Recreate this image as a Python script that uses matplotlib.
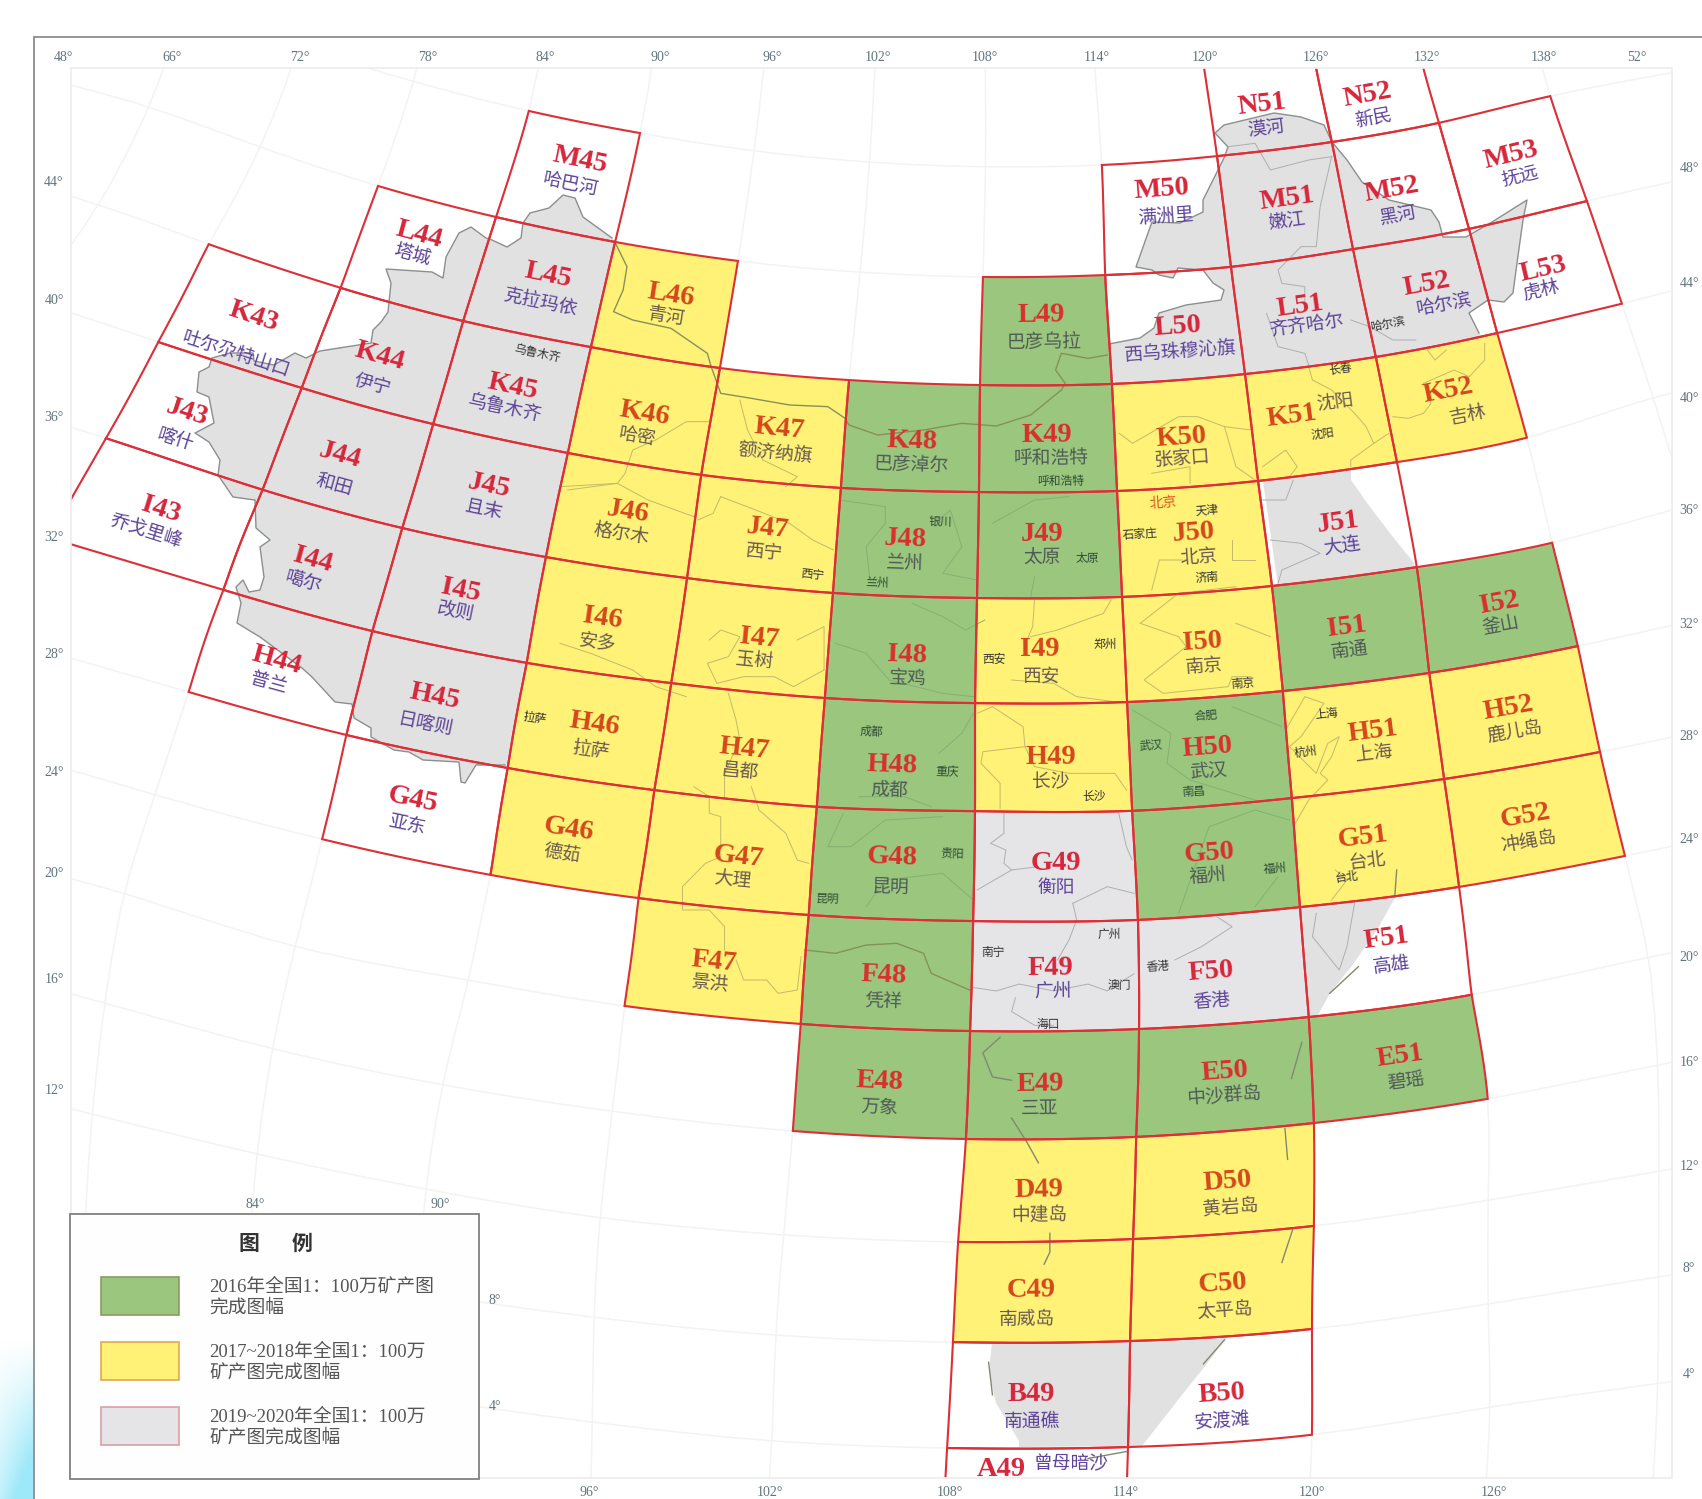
import numpy as np
import matplotlib
matplotlib.use("Agg")
import matplotlib.pyplot as plt
from matplotlib.patches import Polygon, Rectangle

# ---------- sheets ----------
GREEN = ["L49","K48","K49","J48","J49","I48","H48","G48","F48","E48","E49","E50","E51","I51","I52","H50","G50"]
YELLOW = ["L46","K46","K47","K50","K51","K52","J46","J47","J50","I46","I47","I49","I50","H46","H47","H49","H51","H52",
          "G46","G47","G51","G52","F47","D49","D50","C49","C50"]
GRAY = ["G49","F49","F50"]
OPEN = ["N51","N52","M45","M50","M51","M52","M53","L44","L45","L50","L51","L52","L53","K43","K44","K45","J43","J44","J45",
        "J51","I43","I44","I45","H44","H45","G45","F51","B49","B50","A49"]

SHEET_NAMES = {
 "M45":"哈巴河","L44":"塔城","L45":"克拉玛依","K43":"吐尔尕特山口","K44":"伊宁","K45":"乌鲁木齐","J43":"喀什","J44":"和田","J45":"且末",
 "I43":"乔戈里峰","I44":"噶尔","I45":"改则","H44":"普兰","H45":"日喀则","G45":"亚东","L46":"青河","K46":"哈密","K47":"额济纳旗",
 "K48":"巴彦淖尔","K49":"呼和浩特","L49":"巴彦乌拉","L50":"西乌珠穆沁旗","K50":"张家口","K51":"沈阳","K52":"吉林","L51":"齐齐哈尔",
 "L52":"哈尔滨","L53":"虎林","M50":"满洲里","M51":"嫩江","M52":"黑河","M53":"抚远","N51":"漠河","N52":"新民","J46":"格尔木","J47":"西宁",
 "J48":"兰州","J49":"太原","J50":"北京","J51":"大连","I46":"安多","I47":"玉树","I48":"宝鸡","I49":"西安","I50":"南京","I51":"南通","I52":"釜山",
 "H46":"拉萨","H47":"昌都","H48":"成都","H49":"长沙","H50":"武汉","H51":"上海","H52":"鹿儿岛","G46":"德茹","G47":"大理","G48":"昆明",
 "G49":"衡阳","G50":"福州","G51":"台北","G52":"冲绳岛","F47":"景洪","F48":"凭祥","F49":"广州","F50":"香港","F51":"高雄","E48":"万象",
 "E49":"三亚","E50":"中沙群岛","E51":"碧瑶","D49":"中建岛","D50":"黄岩岛","C49":"南威岛","C50":"太平岛","B49":"南通礁","B50":"安渡滩","A49":"曾母暗沙"}

CITY_NAMES = ["乌鲁木齐","呼和浩特","长春","沈阳","哈尔滨","西宁","银川","兰州","太原","北京","天津","石家庄","济南","西安","郑州","南京",
              "拉萨","成都","重庆","长沙","合肥","武汉","南昌","上海","杭州","贵阳","昆明","福州","台北","南宁","广州","澳门","海口","香港"]
CITY_SHEETS = ["K45","K49","K51","K51","L52","J47","J48","J48","J49","J50","J50","J50","J50","I49","I49","I50",
               "H46","H48","H48","H49","H50","H50","H50","H51","H51","G48","G48","G50","G51","F49","F49","F49","F49","F50"]

TOP_LABELS = ["48°","66°","72°","78°","84°","90°","96°","102°","108°","114°","120°","126°","132°","138°","52°"]
LEFT_LABELS = ["44°","40°","36°","32°","28°","24°","20°","16°","12°"]
RIGHT_LABELS = ["48°","44°","40°","36°","32°","28°","24°","20°","16°","12°","8°","4°"]
BOTTOM_LABELS = ["96°","102°","108°","114°","120°","126°"]
INNER_LABELS = ["84°","90°","8°","4°"]

LEGEND_TITLE = ["图","例"]
LEGEND_TEXT = [["2016年全国1：100万矿产图","完成图幅"],["2017~2018年全国1：100万","矿产图完成图幅"],["2019~2020年全国1：100万","矿产图完成图幅"]]

# ---------- map registration: (lon, lat, x_px, y_px) read from the graticule ----------
CONTROL = np.array([
(72,44,208,244),(72,40,158,342),(72,36,106,438),(72,32,50,538),(72,48,260,147),(66,48,149,107),(66,44,99,205),
(84,52,529,111),(78,48,378,186),(78,44,341,288),(78,40,302,388),(78,36,263,490),(78,32,224,590),(78,28,189,692),(78,24,155,795),(78,20,124,893),
(84,48,496,217),(84,44,463,321),(84,40,433,424),(84,36,402,528),(84,32,372,631),(84,28,346,735),(84,24,322,839),(84,20,295,947),
(90,52,640,133),(90,48,615,242),(90,44,591,347),(90,40,568,453),(90,36,546,557),(90,32,527,663),(90,28,508,768),(90,24,491,875),(90,20,469,980),
(96,48,738,261),(96,44,720,368),(96,40,701,475),(96,36,687,578),(96,32,671,683),(96,28,654,790),(96,24,638,898),(96,20,624,1006),(96,16,612,1111),(96,12,600,1218),(96,8,594,1317),
(102,44,849,380),(102,40,841,488),(102,36,833,593),(102,32,825,698),(102,28,817,807),(102,24,809,915),(102,20,801,1024),(102,16,793,1131),(102,12,784,1235),(102,8,776,1335),(102,4,772,1441),
(108,48,983,277),(108,44,980,385),(108,40,979,492),(108,36,977,598),(108,32,975,703),(108,28,975,811),(108,24,973,921),(108,20,970,1031),(108,16,966,1139),(108,12,958,1242),(108,8,953,1342),(108,4,947,1448),(108,0,941,1553),
(114,52,1102,165),(114,48,1105,275),(114,44,1112,384),(114,40,1117,491),(114,36,1122,597),(114,32,1127,702),(114,28,1132,811),(114,24,1138,920),(114,20,1139,1029),(114,16,1136,1137),(114,12,1133,1239),(114,8,1130,1341),(114,4,1128,1447),(114,0,1124,1553),
(120,56,1201,47),(120,52,1217,156),(120,48,1231,267),(120,44,1245,374),(120,40,1258,481),(120,36,1272,586),(120,32,1283,691),(120,28,1292,798),(120,24,1300,907),(120,20,1309,1017),(120,16,1314,1123),(120,12,1314,1226),(120,8,1312,1329),(120,4,1312,1435),
(126,56,1310,34),(126,52,1332,142),(126,48,1353,249),(126,44,1376,357),(126,40,1397,462),(126,36,1417,567),(126,32,1429,673),(126,28,1444,779),(126,24,1459,887),(126,20,1471,995),(126,16,1488,1099),(126,12,1488,1200),(126,8,1488,1304),(126,4,1490,1407),
(132,56,1410,15),(132,52,1439,123),(132,48,1469,229),(132,44,1497,333),(132,40,1527,438),(132,36,1552,543),(132,32,1578,646),(132,28,1600,752),(132,24,1625,856),(132,20,1649,957),
(138,52,1550,96),(138,48,1587,201),(138,44,1622,304),(138,40,1653,397),
], dtype=float)

# thin-plate spline through the control points
_P = np.c_[CONTROL[:, 0] / 6, CONTROL[:, 1] / 4]

def _kernel(r2):
    with np.errstate(divide="ignore", invalid="ignore"):
        return np.where(r2 > 0, 0.5 * r2 * np.log(r2), 0.0)

_n = len(_P)
_d2 = ((_P[:, None, :] - _P[None, :, :]) ** 2).sum(-1)
_Q = np.c_[np.ones(_n), _P]
_M = np.block([[_kernel(_d2) + 0.08 * np.eye(_n), _Q], [_Q.T, np.zeros((3, 3))]])
_RHS = np.r_[CONTROL[:, 2:4], np.zeros((3, 2))]
_W = np.linalg.solve(_M, _RHS)

def project(lon, lat):
    q = np.c_[np.ravel(lon) / 6.0, np.ravel(lat) / 4.0]
    d2 = ((q[:, None, :] - _P[None, :, :]) ** 2).sum(-1)
    out = _kernel(d2) @ _W[:_n] + np.c_[np.ones(len(q)), q] @ _W[_n:]
    return out[:, 0], out[:, 1]

def sheet_bounds(code):
    row = ord(code[0]) - ord("A")
    col = int(code[1:])
    lat0 = row * 4
    lon0 = (col - 31) * 6
    return lon0, lon0 + 6, lat0, lat0 + 4

def sheet_outline(code, n=10):
    w, e, s, t = sheet_bounds(code)
    lon = np.r_[np.linspace(w, e, n), np.full(n, e), np.linspace(e, w, n), np.full(n, w)]
    lat = np.r_[np.full(n, t), np.linspace(t, s, n), np.full(n, s), np.linspace(s, t, n)]
    x, y = project(lon, lat)
    return np.c_[x, y]

def sheet_angle(code):
    w, e, s, t = sheet_bounds(code)
    m = (s + t) / 2
    x, y = project([w, e], [m, m])
    return np.degrees(np.arctan2(-(y[1] - y[0]), x[1] - x[0]))

# ---------- label positions (px in a 1568-wide read-out, scaled below) ----------
CODE_POS = {
 "M45":(534,148),"L44":(386,216),"L45":(505,254),"K43":(234,292),"K44":(350,328),"K45":(472,356),"J43":(172,380),"J44":(313,420),"J45":(450,448),
 "I43":(148,470),"I44":(288,516),"I45":(424,544),"H44":(255,608),"H45":(400,642),"G45":(380,737),"L46":(618,272),"K46":(594,381),"K47":(718,395),
 "K48":(840,407),"K49":(964,401),"L49":(959,290),"L50":(1085,301),"K50":(1088,403),"K51":(1190,383),"K52":(1334,360),"L51":(1198,282),"L52":(1314,262),
 "L53":(1422,248),"M50":(1070,175),"M51":(1186,183),"M52":(1282,175),"M53":(1392,143),"N51":(1163,96),"N52":(1260,88),"J46":(578,472),"J47":(707,487),
 "J48":(834,497),"J49":(960,492),"J50":(1100,491),"J51":(1233,482),"I46":(555,570),"I47":(700,588),"I48":(836,604),"I49":(958,598),"I50":(1108,592),
 "I51":(1241,578),"I52":(1381,556),"H46":(548,667),"H47":(686,690),"H48":(822,705),"H49":(968,698),"H50":(1112,689),"H51":(1265,674),"H52":(1390,652),
 "G46":(524,764),"G47":(680,790),"G48":(822,790),"G49":(973,795),"G50":(1114,786),"G51":(1256,771),"G52":(1405,752),"F47":(658,886),"F48":(814,899),
 "F49":(968,892),"F50":(1116,895),"F51":(1277,865),"E48":(810,996),"E49":(958,999),"E50":(1128,987),"E51":(1290,973),"D49":(957,1096),"D50":(1131,1089),
 "C49":(950,1189),"C50":(1126,1183),"B49":(950,1285),"B50":(1126,1284),"A49":(922,1354)}
NAME_POS = {
 "M45":(526,170),"L44":(380,235),"L45":(498,278),"K43":(218,326),"K44":(343,354),"K45":(465,376),"J43":(162,405),"J44":(308,447),"J45":(446,469),
 "I43":(135,489),"I44":(280,536),"I45":(420,564),"H44":(248,629),"H45":(392,667),"G45":(375,760),"L46":(614,292),"K46":(587,402),"K47":(714,417),
 "K48":(840,428),"K49":(968,422),"L49":(962,315),"L50":(1088,324),"K50":(1089,423),"K51":(1230,370),"K52":(1352,382),"L51":(1204,300),"L52":(1330,280),
 "L53":(1420,267),"M50":(1074,199),"M51":(1186,204),"M52":(1288,198),"M53":(1400,162),"N51":(1166,118),"N52":(1265,109),"J46":(572,492),"J47":(704,509),
 "J48":(834,519),"J49":(960,514),"J50":(1104,513),"J51":(1236,503),"I46":(550,592),"I47":(695,608),"I48":(836,625),"I49":(960,623),"I50":(1109,614),
 "I51":(1243,599),"I52":(1383,576),"H46":(544,691),"H47":(682,711),"H48":(819,728),"H49":(968,720),"H50":(1113,711),"H51":(1266,694),"H52":(1396,675),
 "G46":(518,787),"G47":(675,811),"G48":(821,817),"G49":(973,817),"G50":(1113,808),"G51":(1259,793),"G52":(1408,775),"F47":(654,907),"F48":(814,923),
 "F49":(970,914),"F50":(1116,922),"F51":(1282,889),"E48":(810,1020),"E49":(958,1021),"E50":(1128,1010),"E51":(1295,996),"D49":(957,1119),"D50":(1134,1113),
 "C49":(946,1215),"C50":(1128,1208),"B49":(951,1309),"B50":(1126,1309),"A49":(987,1348)}
CITY_POS = [(495,326),(977,443),(1235,340),(1218,400),(1278,299),(748,529),(866,481),(808,537),(1002,514),(1071,463),(1112,470),(1050,492),(1112,532),
            (916,607),(1018,594),(1145,630),(493,662),(803,674),(873,711),(1008,734),(1111,660),(1060,687),(1100,729),(1222,658),(1203,693),(877,787),
            (762,828),(1175,800),(1241,808),(915,877),(1022,861),(1031,908),(966,944),(1067,891)]
S = 1702 / 1568

TOP_X = [63,172,300,428,545,660,772,878,985,1097,1205,1316,1427,1544,1637]
LEFT_Y = [182,300,417,537,654,772,873,979,1090]
RIGHT_Y = [168,283,398,510,624,736,839,957,1062,1166,1268,1375]
BOTTOM_X = [589,770,950,1126,1312,1494]
INNER_XY = [(255,1204),(440,1204),(495,1300),(495,1407)]

# ---------- land outlines, px ----------
WEST_BORDER = [(612,238),(583,217),(575,198),(563,195),(549,208),(530,213),(523,223),(521,238),(507,247),(492,240),(486,238),(471,227),(459,233),(446,257),(443,278),
 (432,272),(386,269),(391,283),(388,312),(381,322),(373,330),(371,343),(320,351),(306,358),(295,353),(274,365),(254,361),(253,353),(230,353),(212,358),(209,367),(199,372),
 (197,392),(209,397),(214,423),(195,433),(209,442),(220,460),(218,475),(233,497),(255,500),(256,528),(270,540),(260,547),(264,577),(260,590),(249,592),(243,580),(236,587),
 (241,603),(237,623),(260,637),(302,668),(312,677),(335,702),(352,704),(354,718),(371,728),(371,737),(394,750),(409,752),(423,760),(459,762),(461,782),(465,783),(476,765),(505,765)]
WEST_CLOSE = [(530,775),(625,252)]
NE_BORDER = [(1105,345),(1114,343),(1140,338),(1154,328),(1159,313),(1186,305),(1221,300),(1224,290),(1213,283),(1203,270),(1178,268),(1173,278),(1159,275),(1152,270),(1136,267),
 (1148,233),(1152,222),(1180,223),(1203,212),(1203,200),(1224,158),(1228,147),(1215,133),(1224,125),(1274,113),(1301,117),(1324,125),(1332,142),(1347,160),(1362,182),(1389,200),
 (1431,210),(1439,222),(1443,237),(1466,237),(1492,222),(1527,200),(1523,220),(1517,263),(1513,293),(1504,302),(1488,300),(1469,313),(1479,333)]
NE_CLOSE = [(1490,350),(1360,440),(1351,467),(1351,480),(1370,507),(1393,537),(1414,563),(1414,578),(1280,600),(1265,495),(1250,400),(1120,400)]
TAIWAN_SEA = [(1300,907),(1397,894),(1377,930),(1351,967),(1330,993),(1317,1017),(1309,1017)]
SOUTH_SEA = [(992,1342),(1228,1336),(1205,1366),(1178,1400),(1142,1446),(1019,1447),(1019,1441),(996,1403),(989,1372)]

THIN_COL = [
 (560,0,3,[(250,1320),(330,1265),(390,1265)]),
 (560,0,3,[(250,1320),(190,1350),(170,1420),(150,1450),(20,1470)]),
 (560,0,3,[(470,1200),(490,1290),(530,1380),(620,1430),(590,1460)]),
 (560,480,3,[(0,20),(150,10),(230,60),(350,110)]),
 (560,480,3,[(420,50),(400,100),(360,120)]),
 (560,480,3,[(420,50),(500,85),(600,130),(660,180),(715,210)]),
 (560,480,3,[(390,480),(420,450),(470,470),(440,530),(385,550),(410,610),(480,590),(560,590),(610,620),(690,570)]),
 (560,480,3,[(620,480),(690,440),(690,570)]),
 (560,480,3,[(0,490),(80,520),(190,570),(250,620),(330,650)]),
 (560,480,3,[(440,640),(460,720),(470,780),(430,880),(430,950)]),
 (560,480,3,[(350,920),(390,950),(390,1000),(420,1010),(420,1130),(380,1150),(320,1220),(320,1290),(390,1290),(430,1340),(430,1410)]),
 (560,480,3,[(500,920),(520,990),(590,1060),(620,1140),(650,1150)]),
 (560,480,3,[(460,1440),(480,1500),(540,1500),(570,1540),(620,1530),(630,1430)]),
 (560,480,3,[(1090,700),(1130,680),(1210,740),(1215,800),(1105,815),(1100,850),(1150,910),(1150,985)]),
 (560,480,3,[(1215,800),(1240,860),(1330,880),(1400,880),(1450,880),(1480,930)]),
 (560,480,3,[(1240,360),(1235,440),(1220,480)]),
 (560,480,3,[(1440,360),(1420,400),(1300,450),(1230,470)]),
 (560,480,3,[(1180,600),(1290,610),(1350,650),(1480,670)]),
 (1102,0,3,[(540,1100),(550,1140),(600,1170),(660,1240),(690,1280),(710,1330),(750,1300)]),
 (1102,0,3,[(710,1330),(650,1380),(650,1400)]),
 (1102,0,3,[(760,1250),(800,1255),(840,1240),(860,1210),(840,1150),(920,1110),(960,1130),(1000,1080),(1000,1030)]),
 (1102,0,3,[(850,1050),(870,1080),(900,1050)]),
 (1102,0,3,[(45,1300),(80,1330),(140,1290),(200,1250),(250,1250),(320,1280),(390,1290)]),
 (1102,0,3,[(130,1420),(230,1400),(230,1450)]),
 (1102,0,3,[(320,1280),(350,1400),(400,1440)]),
 (1102,0,3,[(420,1400),(480,1350),(510,1400),(490,1430)]),
 (1102,480,3,[(130,330),(150,240),(210,240)]),
 (1102,480,3,[(340,180),(340,240),(400,240)]),
 (1102,480,3,[(100,430),(200,340),(350,320)]),
 (1102,480,3,[(100,430),(200,470),(220,500),(110,600),(160,640),(330,620),(340,590),(390,590)]),
 (1102,480,3,[(350,430),(440,470)]),
 (1102,480,3,[(480,750),(530,650),(580,670),(520,770),(490,800),(560,880),(590,790),(620,770),(600,830),(570,880),(590,900),(540,960),(500,1040)]),
 (1102,480,3,[(600,1260),(640,1200),(610,1170)]),
]
THIN_GREEN = [
 (560,480,3,[(730,60),(850,80),(850,130),(800,200),(810,300)]),
 (560,480,3,[(990,120),(1020,90),(1050,200),(1000,280),(1090,300)]),
 (560,480,3,[(1130,130),(1240,60),(1330,50)]),
 (560,480,3,[(1240,290),(1230,350)]),
 (560,480,3,[(920,370),(1000,410),(1060,450),(1110,420)]),
 (560,480,3,[(720,490),(800,520),(860,600),(1000,640),(1080,650)]),
 (560,480,3,[(780,950),(900,950),(970,980)]),
 (560,480,3,[(990,820),(1050,760),(1080,700)]),
 (560,480,3,[(740,1000),(700,1100),(760,1100),(850,1020),(1000,1010)]),
 (560,480,3,[(800,1280),(850,1200),(1000,1180),(1080,1260)]),
 (1102,480,3,[(80,690),(180,760),(170,850),(230,900),(400,960)]),
 (1102,480,3,[(340,680),(470,740)]),
 (1102,480,3,[(200,1300),(280,1040),(400,990),(490,1020)]),
 (1102,480,3,[(400,1280),(460,1190)]),
]
BORDER_DARK = [
 (560,0,3,[(145,730),(175,800),(165,870),(140,935),(190,960),(290,985),(385,1060),(395,1100),(420,1180),(500,1195),(600,1215),(700,1220),(745,1255),(755,1275),(830,1305),
           (950,1290),(1050,1270),(1140,1278),(1230,1245),(1310,1170),(1320,1150),(1295,1110),(1310,1060),(1380,1075),(1430,1065)]),
 (560,480,3,[(640,1410),(720,1420),(800,1395),(880,1390),(950,1420),(970,1480),(1070,1530)]),
]
THIN_GRAY = [
 (560,480,3,[(1160,1000),(1160,1060),(1125,1090),(1165,1110),(1160,1150),(1180,1170),(1090,1230)]),
 (560,480,3,[(1180,1170),(1250,1160)]),
 (560,480,3,[(1340,1270),(1430,1220),(1500,1240)]),
 (560,480,3,[(1340,1270),(1350,1320),(1330,1380),(1300,1440)]),
 (560,480,3,[(1460,1000),(1480,1100),(1495,1140)]),
 (560,960,2.909,[(1080,80),(1140,90),(1200,70),(1290,90),(1380,70),(1430,90),(1500,40)]),
 (560,960,2.909,[(1190,110),(1180,150),(1240,190),(1290,190)]),
 (1102,0,3,[(330,440),(400,430),(440,510),(540,480),(600,470)]),
 (1102,0,3,[(600,470),(570,620),(560,740),(520,740),(460,810),(470,850),(530,860),(530,920)]),
 (1102,0,3,[(430,940),(460,1040),(530,1060),(540,1095)]),
 (1102,0,3,[(650,960),(700,980),(760,1020),(820,1020)]),
 (1102,0,3,[(420,1500),(480,1500),(500,1440)]),
 (1102,480,3,[(440,180),(520,190),(570,220),(470,270),(460,310)]),
 (1102,480,3,[(660,1270),(640,1400),(620,1470),(550,1370),(560,1300)]),
 (1102,480,3,[(300,1310),(340,1340),(260,1400),(190,1440)]),
]
DASHES = [
 (560,960,2.909,[(1150,225),(1105,270),(1130,340),(1180,350)]),
 (560,960,2.909,[(1180,460),(1220,530),(1250,590)]),
 (560,960,2.909,[(1280,795),(1280,850),(1265,885)]),
 (560,960,2.909,[(1120,1170),(1130,1265)]),
 (560,960,2.909,[(1380,1450),(1480,1430)]),
 (1102,960,2.909,[(478,490),(485,580)]),
 (1102,960,2.909,[(498,785),(470,880)]),
 (1102,960,2.909,[(522,240),(495,345)]),
 (1102,960,2.909,[(320,1105),(265,1175)]),
 (1102,480,3,[(770,1170),(765,1250)]),
 (1102,480,3,[(670,1460),(595,1540)]),
]

GRAT_LONS = [66,72,78,84,90,96,102,108,114,120,126,132,138]
GRAT_LATS = [4,8,12,16,20,24,28,32,36,40,44,48,52]

def uncrop(group):
    ox, oy, sy, pts = group
    p = np.array(pts, float)
    return ox + p[:, 0] / 2.613, oy + p[:, 1] / sy

# ---------- figure ----------
plt.rcParams["font.family"] = ["Noto Sans CJK SC", "DejaVu Sans"]
SERIF = ["Liberation Serif", "Noto Sans CJK SC", "DejaVu Sans"]
fig = plt.figure(figsize=(17.02, 14.99), dpi=100, facecolor="white")
ax = fig.add_axes([0, 0, 1, 1])

# corner glow
ny, nx = 160, 34
gy, gx = np.mgrid[0:ny, 0:nx]
rgba = np.zeros((ny, nx, 4))
rgba[..., :3] = (0.55, 0.90, 0.98)
rgba[..., 3] = np.clip((gy / ny) ** 1.2 * (0.55 + 0.45 * gx / nx) + 0.25 * (gx / nx) * (gy / ny), 0, 0.85)
ax.imshow(rgba, extent=(0, 33, 1499, 1339), aspect="auto", zorder=0)

ax.set_xlim(0, 1702)
ax.set_ylim(1499, 0)
ax.axis("off")

FX0, FY0, FX1, FY1 = 71, 68, 1672, 1478
clip = Rectangle((FX0, FY0), FX1 - FX0, FY1 - FY0, transform=ax.transData)

# graticule
for lon in GRAT_LONS:
    lat = np.linspace(0, 58, 40)
    x, y = project(np.full_like(lat, lon), lat)
    l, = ax.plot(x, y, color="#f3f3f3", lw=1.1, zorder=1)
    l.set_clip_path(clip)
for lat in GRAT_LATS:
    lon = np.linspace(56, 150, 60)
    x, y = project(lon, np.full_like(lon, lat))
    l, = ax.plot(x, y, color="#f3f3f3", lw=1.1, zorder=1)
    l.set_clip_path(clip)

# land
LAND = "#e1e1e1"
for poly in (WEST_BORDER + WEST_CLOSE, NE_BORDER + NE_CLOSE, TAIWAN_SEA, SOUTH_SEA):
    ax.add_patch(Polygon(poly, closed=True, fc=LAND, ec="none", zorder=2))
for line in (WEST_BORDER, NE_BORDER):
    p = np.array(line)
    ax.plot(p[:, 0], p[:, 1], color="#8b8f8f", lw=1.0, zorder=3)

# filled sheets
for codes, col in ((GREEN, "#9ac67e"), (YELLOW, "#fff277"), (GRAY, "#e5e5e7")):
    for c in codes:
        pg = Polygon(sheet_outline(c), closed=True, fc=col, ec="none", zorder=4)
        ax.add_patch(pg)
        pg.set_clip_path(clip)

# thin boundaries
for g in THIN_COL:
    ax.plot(*uncrop(g), color="#c2ba6a", lw=0.7, zorder=5)
for g in THIN_GREEN:
    ax.plot(*uncrop(g), color="#86b072", lw=0.7, zorder=5)
for g in THIN_GRAY:
    ax.plot(*uncrop(g), color="#acafaf", lw=0.7, zorder=5)
for g in BORDER_DARK:
    ax.plot(*uncrop(g), color="#84925a", lw=1.0, zorder=5)
for g in DASHES:
    ax.plot(*uncrop(g), color="#7f8a70", lw=1.0, zorder=5)

# sheet borders
for c in GREEN + YELLOW + GRAY + OPEN:
    pg = Polygon(sheet_outline(c), closed=True, fc="none", ec="#dd2f36", lw=1.5, zorder=6, joinstyle="miter")
    ax.add_patch(pg)
    pg.set_clip_path(clip)

# frames
ax.add_patch(Rectangle((FX0, FY0), FX1 - FX0, FY1 - FY0, fc="none", ec="#ececec", lw=1.2, zorder=7))
ax.plot([34, 34, 1702], [1499, 37, 37], color="#8c8c8c", lw=1.3, zorder=7, solid_joinstyle="miter")

# sheet labels
for c, name in SHEET_NAMES.items():
    rot = sheet_angle(c)
    if c in GREEN:
        ccol, ncol = "#d9302c", "#4f5a55"
    elif c in YELLOW:
        ccol, ncol = "#d4471c", "#6a5a50"
    else:
        ccol, ncol = "#d6263a", "#5d4398"
    cx, cy = CODE_POS[c]
    nx_, ny_ = NAME_POS[c]
    ax.text(cx * S, cy * S, c, family=SERIF, weight="bold", fontsize=20.5, color=ccol, rotation=rot,
            rotation_mode="anchor", ha="center", va="center", zorder=9)
    ax.text(nx_ * S, ny_ * S, name, fontsize=13.5, color=ncol, rotation=rot,
            rotation_mode="anchor", ha="center", va="center", zorder=9)
for name, sh, (cx, cy) in zip(CITY_NAMES, CITY_SHEETS, CITY_POS):
    col = "#d9561c" if name == "北京" else ("#333333" if sh not in GREEN else "#2f4a35")
    ax.text(cx * S, cy * S, name, fontsize=8.5 if name != "北京" else 10, color=col, rotation=sheet_angle(sh),
            rotation_mode="anchor", ha="center", va="center", zorder=9)

# frame labels
LC = "#5f7480"
for t, x in zip(TOP_LABELS, TOP_X):
    ax.text(x, 57, t, family=SERIF, fontsize=10, color=LC, ha="center", va="center", zorder=8)
for t, y in zip(LEFT_LABELS, LEFT_Y):
    ax.text(54, y, t, family=SERIF, fontsize=10, color=LC, ha="center", va="center", zorder=8)
for t, y in zip(RIGHT_LABELS, RIGHT_Y):
    ax.text(1689, y, t, family=SERIF, fontsize=10, color=LC, ha="center", va="center", zorder=8)
for t, x in zip(BOTTOM_LABELS, BOTTOM_X):
    ax.text(x, 1492, t, family=SERIF, fontsize=10, color=LC, ha="center", va="center", zorder=8)

# legend
ax.add_patch(Rectangle((70, 1214), 409, 265, fc="#fefefe", ec="#808080", lw=1.3, zorder=10))
for t, (x, y) in zip(INNER_LABELS, INNER_XY):
    ax.text(x, y, t, family=SERIF, fontsize=10, color=LC, ha="center", va="center", zorder=11)
for t, x in zip(LEGEND_TITLE, (249, 302)):
    ax.text(x, 1243, t, fontsize=15, weight="bold", color="#333333", ha="center", va="center", zorder=11)
SW_Y = [1277, 1342, 1407]
SW_FC = ["#9ac67e", "#fff277", "#e5e5e7"]
SW_EC = ["#8d9a60", "#e0a94f", "#d9a0a6"]
for y, fc, ec, lines in zip(SW_Y, SW_FC, SW_EC, LEGEND_TEXT):
    ax.add_patch(Rectangle((101, y), 78, 38, fc=fc, ec=ec, lw=1.2, zorder=11))
    for k, t in enumerate(lines):
        ax.text(209, y + 10 + k * 20.5, t, family=SERIF, fontsize=13.5, color="#555555", ha="left", va="center", zorder=11)

fig.savefig("out.png", dpi=100, facecolor="white")
